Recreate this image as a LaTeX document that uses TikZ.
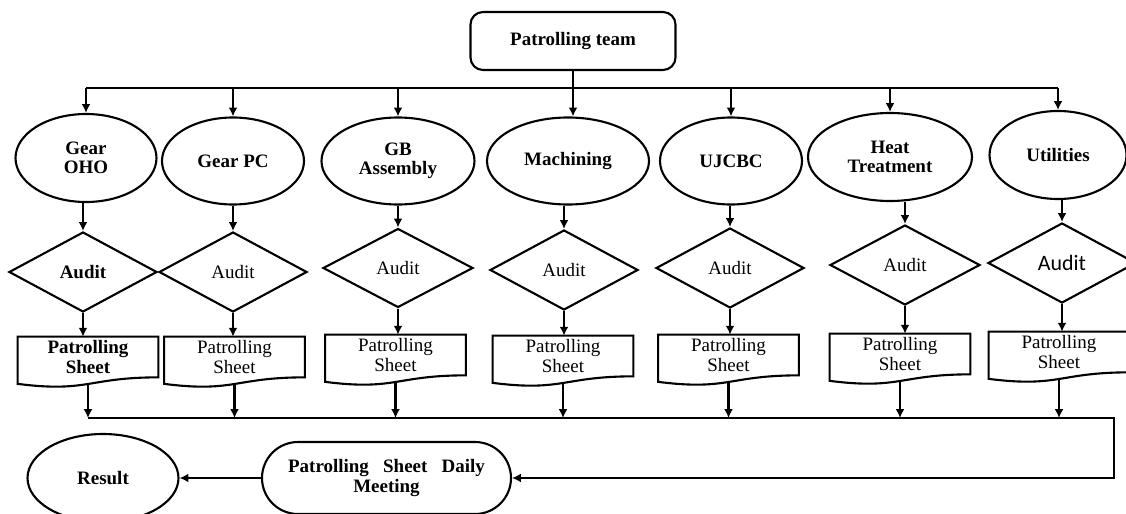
\documentclass[tikz,border=0pt]{standalone}
\usepackage{fontspec}
\setmainfont{Liberation Serif}
\newfontfamily\calibrifont{Carlito}
\usetikzlibrary{calc,shapes.geometric,arrows.meta}
\newcommand\labelsize{\fontsize{10.8}{11}\selectfont}
\tikzset{
	unit/.style={ellipse, draw, line width=1.2pt, minimum width=2.84cm, minimum height=1.74cm, inner sep=0pt, align=center, font=\labelsize\bfseries},
	audit/.style={diamond, draw, line width=1.2pt, minimum width=2.96cm, minimum height=1.6cm, inner sep=0pt, font=\labelsize},
	sheet/.style={minimum width=2.8cm, minimum height=0.8cm, inner sep=0pt, align=center, font=\labelsize},
	arr/.style={line width=1.2pt, -{Latex[length=5pt,width=5pt]}},
	bus/.style={line width=0.9pt}
}
\def\sheetoutline#1{\draw[line width=1.2pt] (#1.north west) -- (#1.north east) -- (#1.south east) .. controls (#1.south) and ($(#1.south)+(0,-0.31)$) .. ($(#1.south west)+(0,-0.13)$) -- cycle;}

\begin{document}
\begin{tikzpicture}
				\useasboundingbox (0,0) rectangle (22.52,-10.28);
				
				\node[draw, rounded corners=0.25cm, line width=1.2pt, minimum width=4.1cm, minimum height=1.16cm, font=\labelsize\bfseries] (team) at (11.46,-0.82) {Patrolling team};
				\coordinate (topbus) at (0,-1.76);
				\coordinate (lowbus) at (0,-8.36);
				\coordinate (turn) at (22.28,-8.36);
				
				\node[unit, minimum width=2.82cm, minimum height=1.76cm] (oho) at (1.72,-3.16) {Gear\\OHO};
				\node[unit] (pc) at (4.66,-3.22) {Gear PC};
				\node[unit, minimum width=3.06cm] (gb) at (7.96,-3.22) {GB\\Assembly};
				\node[unit, minimum width=3.24cm] (mach) at (11.36,-3.22) {Machining};
				\node[unit] (ujcbc) at (14.62,-3.22) {UJCBC};
				\node[unit, minimum width=3.28cm, minimum height=1.76cm] (heat) at (17.80,-3.14) {Heat\\Treatment};
				\node[unit, minimum width=2.74cm, minimum height=1.76cm] (util) at (21.16,-3.10) {Utilities};
				
				\node[audit, font=\labelsize\bfseries] (a1) at (1.66,-5.44) {Audit};
				\node[audit] (a2) at (4.66,-5.44) {Audit};
				\node[audit, minimum width=3.0cm, minimum height=1.58cm] (a3) at (7.96,-5.36) {Audit};
				\node[audit] (a4) at (11.28,-5.40) {Audit};
				\node[audit] (a5) at (14.60,-5.36) {Audit};
				\node[audit, minimum width=3.0cm] (a6) at (18.10,-5.30) {Audit};
				\node[audit, font=\calibrifont\fontsize{12.5}{13}\selectfont] (a7) at (21.24,-5.26) {Audit};
				
				\node[sheet, font=\labelsize\bfseries] (s1) at (1.76,-7.14) {Patrolling\\Sheet};
				\node[sheet] (s2) at (4.69,-7.14) {Patrolling\\Sheet};
				\node[sheet] (s3) at (7.91,-7.10) {Patrolling\\Sheet};
				\node[sheet] (s4) at (11.26,-7.12) {Patrolling\\Sheet};
				\node[sheet] (s5) at (14.57,-7.10) {Patrolling\\Sheet};
				\node[sheet] (s6) at (18.00,-7.08) {Patrolling\\Sheet};
				\node[sheet] (s7) at (21.18,-7.04) {Patrolling\\Sheet};
				\sheetoutline{s1}
				\sheetoutline{s2}
				\sheetoutline{s3}
				\sheetoutline{s4}
				\sheetoutline{s5}
				\sheetoutline{s6}
				\sheetoutline{s7}
				
				\node[draw, rounded corners=0.72cm, line width=1.2pt, minimum width=4.98cm, minimum height=1.44cm, align=center, font=\labelsize\bfseries] (meet) at (7.73,-9.56) {Patrolling\hspace{0.5em} Sheet\hspace{0.5em} Daily\\Meeting};
				\node[unit, minimum width=3.02cm, minimum height=1.76cm] (res) at (2.06,-9.56) {Result};
				
				% team to the units
				\draw[bus] (oho.north |- topbus) -- (util.north |- topbus);
				\draw[arr] (team.south) -- (team.south |- mach.north);
				\draw[arr] (oho.north |- topbus) -- (oho.north);
				\draw[arr] (pc.north |- topbus) -- (pc.north);
				\draw[arr] (gb.north |- topbus) -- (gb.north);
				\draw[arr] (ujcbc.north |- topbus) -- (ujcbc.north);
				\draw[arr] (heat.north |- topbus) -- (heat.north);
				\draw[arr] (util.north |- topbus) -- (util.north);
				
				% units to audits
				\draw[arr] (a1.north |- oho.south) -- (a1.north);
				\draw[arr] (a2.north |- pc.south) -- (a2.north);
				\draw[arr] (a3.north |- gb.south) -- (a3.north);
				\draw[arr] (a4.north |- mach.south) -- (a4.north);
				\draw[arr] (a5.north |- ujcbc.south) -- (a5.north);
				\draw[arr] (a6.north |- heat.south) -- (a6.north);
				\draw[arr] (a7.north |- util.south) -- (a7.north);
				
				% audits to sheets
				\draw[arr] (a1.south) -- (a1.south |- s1.north);
				\draw[arr] (a2.south) -- (a2.south |- s2.north);
				\draw[arr] (a3.south) -- (a3.south |- s3.north);
				\draw[arr] (a4.south) -- (a4.south |- s4.north);
				\draw[arr] (a5.south) -- (a5.south |- s5.north);
				\draw[arr] (a6.south) -- (a6.south |- s6.north);
				\draw[arr] (a7.south) -- (a7.south |- s7.north);
				
				% sheets to the meeting
				\draw[arr] ($(s1.south)+(0,-0.13)$) -- (s1.south |- lowbus);
				\draw[arr] ($(s2.south)+(0,-0.13)$) -- (s2.south |- lowbus);
				\draw[arr] ($(s3.south)+(0,-0.13)$) -- (s3.south |- lowbus);
				\draw[arr] ($(s4.south)+(0,-0.13)$) -- (s4.south |- lowbus);
				\draw[arr] ($(s5.south)+(0,-0.13)$) -- (s5.south |- lowbus);
				\draw[arr] ($(s6.south)+(0,-0.13)$) -- (s6.south |- lowbus);
				\draw[arr] ($(s7.south)+(0,-0.13)$) -- (s7.south |- lowbus);
				\draw[bus, -{Latex[length=5pt,width=5pt]}] (s1.south |- lowbus) -- (turn) |- (meet.east);
				
				\draw[arr] (meet.west) -- (res.east);
			\end{tikzpicture}
\end{document}
